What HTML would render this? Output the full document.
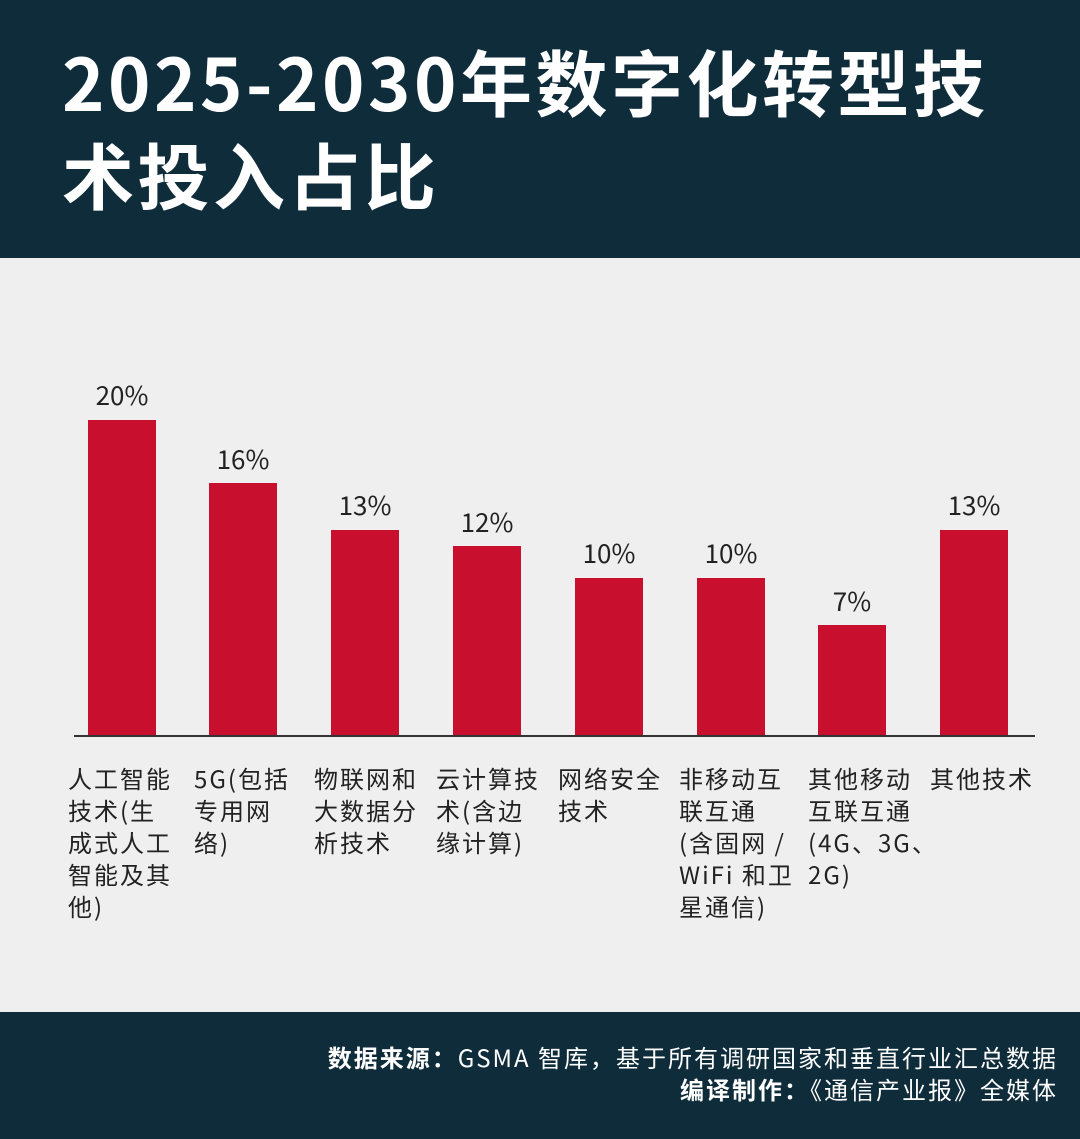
<!DOCTYPE html>
<html><head><meta charset="utf-8"><style>
body{margin:0;width:1080px;height:1139px;position:relative;background:#efefef;font-family:"Liberation Sans","Noto Sans CJK SC",sans-serif;overflow:hidden}
.hdr{position:absolute;left:0;top:0;width:1080px;height:258px;background:#0f2c3b}
.t{position:absolute;left:62px;color:#fff;font-size:72px;font-weight:bold;font-family:"Noto Sans CJK SC","Liberation Sans",sans-serif;line-height:1;letter-spacing:3.5px;white-space:nowrap}
.ftr{position:absolute;left:0;top:1012px;width:1080px;height:127px;background:#0f2c3b}
.f{position:absolute;right:22px;color:#fff;font-size:24px;letter-spacing:2px;font-family:"Noto Sans CJK SC",sans-serif;line-height:1;white-space:nowrap}
.bar{position:absolute;width:68px;background:#c8102e}
.v{position:absolute;width:120px;text-align:center;font-size:26px;color:#222;font-family:"Noto Sans CJK SC",sans-serif;line-height:1}
.l{position:absolute;top:762px;font-size:24px;letter-spacing:2px;line-height:32px;color:#222;font-family:"Noto Sans CJK SC",sans-serif;white-space:nowrap}
.p{margin:0 3px}
.base{position:absolute;left:74px;top:735px;width:961px;height:2px;background:#333}
</style></head><body>
<div class="hdr"></div>
<div class="t" style="top:44px">2025-2030年数字化转型技</div>
<div class="t" style="top:137px">术投入占比</div>
<div class="bar" style="left:88px;top:420px;height:315px"></div>
<div class="bar" style="left:209px;top:483px;height:252px"></div>
<div class="bar" style="left:331px;top:530px;height:205px"></div>
<div class="bar" style="left:453px;top:546px;height:189px"></div>
<div class="bar" style="left:575px;top:578px;height:157px"></div>
<div class="bar" style="left:697px;top:578px;height:157px"></div>
<div class="bar" style="left:818px;top:625px;height:110px"></div>
<div class="bar" style="left:940px;top:530px;height:205px"></div>
<div class="base"></div>
<div class="v" style="left:62px;top:382px">20%</div>
<div class="v" style="left:183px;top:446px">16%</div>
<div class="v" style="left:305px;top:492px">13%</div>
<div class="v" style="left:427px;top:509px">12%</div>
<div class="v" style="left:549px;top:540px">10%</div>
<div class="v" style="left:671px;top:540px">10%</div>
<div class="v" style="left:792px;top:588px">7%</div>
<div class="v" style="left:914px;top:492px">13%</div>
<div class="l" style="left:68px">人工智能<br>技术(生<br>成式人工<br>智能及其<br>他)</div>
<div class="l" style="left:194px">5G(包括<br>专用网<br>络)</div>
<div class="l" style="left:314px">物联网和<br>大数据分<br>析技术</div>
<div class="l" style="left:436px">云计算技<br>术(含边<br>缘计算)</div>
<div class="l" style="left:558px">网络安全<br>技术</div>
<div class="l" style="left:679px">非移动互<br>联互通<br>(含固网 /<br>WiFi 和卫<br>星通信)</div>
<div class="l" style="left:808px">其他移动<br>互联互通<br>(4G、3G、<br>2G)</div>
<div class="l" style="left:930px">其他技术</div>
<div class="ftr"></div>
<div class="f" style="top:1045px"><b>数据来源：</b>GSMA 智库，基于所有调研国家和垂直行业汇总数据</div>
<div class="f" style="top:1077px"><b>编译制作：</b>《通信产业报》全媒体</div>
</body></html>
